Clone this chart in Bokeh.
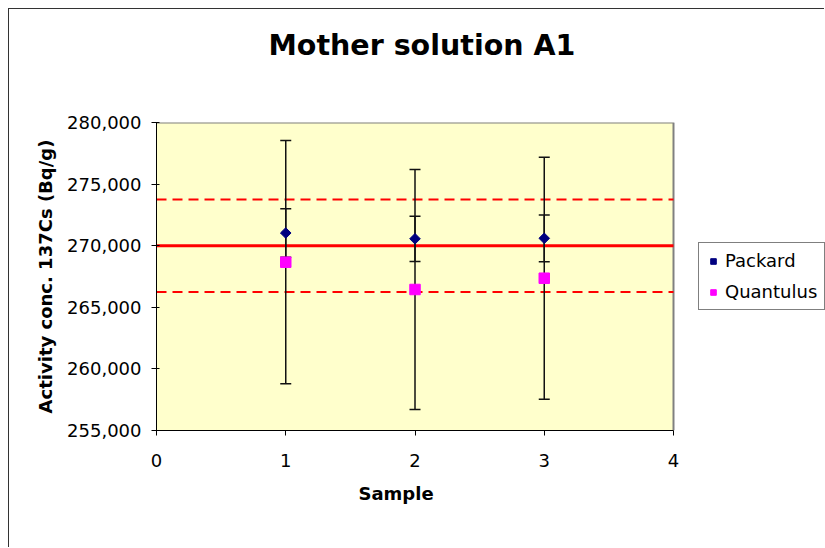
from bokeh.plotting import figure
from bokeh.models import (ColumnDataSource, Whisker, TeeHead, Legend, LegendItem, Title,
                          FixedTicker, NumeralTickFormatter, Range1d)
from bokeh.embed import file_html
from bokeh.resources import INLINE
import math

# ---- data ----
samples = [1, 2, 3]
packard = [271030, 270560, 270600]
packard_unc = [1965, 1840, 1900]
quantulus = [268660, 266445, 267360]
quantulus_unc = [9875, 9740, 9820]
ref_value = 270000
ref_unc = 3750
x_ticks = [0, 1, 2, 3, 4]
y_ticks = [255000, 260000, 265000, 270000, 275000, 280000]

FONT = "DejaVu Sans"

# layout (pixels)
W, H = 816, 539
ML, MR, MT, MB = 147, 0, 113, 118
PLOT_W = 517                      # width of the yellow plot area
FRAME_W = W - ML - MR
x0, x1 = x_ticks[0], x_ticks[-1]
y0, y1 = y_ticks[0], y_ticks[-1]
x_end = x0 + (x1 - x0) * FRAME_W / PLOT_W

p = figure(width=W, height=H, output_backend="svg", toolbar_location=None,
           x_range=Range1d(x0, x_end), y_range=Range1d(y0, y1),
           min_border_left=ML, min_border_right=MR, min_border_top=MT, min_border_bottom=MB)
p.styles = {"margin-left": "8px", "margin-top": "8px",
            "border-left": "1px solid #333333", "border-top": "1px solid #333333"}

p.background_fill_color = "white"
p.border_fill_color = "white"
p.outline_line_color = None
p.xgrid.visible = False
p.ygrid.visible = False

# plot area background and its grey border
p.quad(left=[x0], right=[x1], bottom=[y0], top=[y1],
       fill_color="#FFFFCC", line_color=None, level="image")
p.line([x0, x1, x1], [y1, y1, y0], line_color="#808080", line_width=2, level="image")

# real title (outer) + blank spacer title (next to the frame)
p.title.text = "Mother solution A1"
p.title.text_font = FONT
p.title.text_font_size = "28.5px"
p.title.text_font_style = "bold"
p.title.text_color = "black"
p.title.align = "left"
p.title.offset = 112
p.title.vertical_align = "bottom"
p.title.standoff = 0
spacer = Title(text=" ", text_font_size="1px", text_color="white", standoff=58)
p.add_layout(spacer, "above")

# axes
for ax in (p.xaxis[0], p.yaxis[0]):
    ax.axis_line_color = "black"
    ax.axis_line_width = 1
    ax.major_tick_line_color = "black"
    ax.minor_tick_line_color = None
    ax.major_label_text_font = FONT
    ax.major_label_text_font_size = "18px"
    ax.major_label_text_color = "black"
    ax.axis_label_text_font = FONT
    ax.axis_label_text_font_size = "18px"
    ax.axis_label_text_font_style = "bold"
    ax.axis_label_text_color = "black"

p.xaxis.ticker = FixedTicker(ticks=x_ticks)
p.xaxis.bounds = (x0, x1)
p.xaxis.major_tick_in = 0
p.xaxis.major_tick_out = 5
p.xaxis.major_label_standoff = 18

# x axis title, placed under the plot area
x_title = Title(text="Sample", text_font=FONT, text_font_size="18px", text_font_style="bold",
                text_color="black", align="left", offset=202, vertical_align="top",
                standoff=27)
p.add_layout(x_title, "below")

p.yaxis.ticker = FixedTicker(ticks=y_ticks)
p.yaxis.formatter = NumeralTickFormatter(format="0,0")
p.yaxis.major_tick_in = 3
p.yaxis.major_tick_out = 5
p.yaxis.major_label_standoff = 10
p.yaxis.axis_label = "Activity conc. 137Cs (Bq/g)"
p.yaxis.axis_label_standoff = 8

# error bars
q_src = ColumnDataSource(dict(
    x=samples,
    upper=[v + e for v, e in zip(quantulus, quantulus_unc)],
    lower=[v - e for v, e in zip(quantulus, quantulus_unc)]))
pk_src = ColumnDataSource(dict(
    x=samples,
    upper=[v + e for v, e in zip(packard, packard_unc)],
    lower=[v - e for v, e in zip(packard, packard_unc)]))

for src in (q_src, pk_src):
    w = Whisker(source=src, base="x", upper="upper", lower="lower", dimension="height",
                line_color="#111111", line_width=1.5, level="underlay",
                upper_head=TeeHead(size=11, line_color="#111111", line_width=1.5),
                lower_head=TeeHead(size=11, line_color="#111111", line_width=1.5))
    p.add_layout(w)

# reference value and its uncertainty limits
p.segment(x0=[x0], y0=[ref_value], x1=[x1], y1=[ref_value],
          line_color="#FF0000", line_width=3, level="underlay")
p.segment(x0=[x0, x0], y0=[ref_value + ref_unc, ref_value - ref_unc],
          x1=[x1, x1], y1=[ref_value + ref_unc, ref_value - ref_unc],
          line_color="#FF0000", line_width=2, line_dash="10 6", level="underlay")

# markers
r_pk = p.scatter(samples, packard, marker="square", angle=math.pi / 4, size=7.5,
                 fill_color="#000080", line_color="#000080")
r_q = p.scatter(samples, quantulus, marker="square", size=10.5,
                fill_color="#FF00FF", line_color="#FF00FF")

legend = Legend(items=[LegendItem(label="Packard", renderers=[r_pk]),
                       LegendItem(label="Quantulus", renderers=[r_q])],
                location=(542, 120))
legend.label_text_font = FONT
legend.label_text_font_size = "18px"
legend.label_text_color = "black"
legend.border_line_color = "black"
legend.border_line_width = 1
legend.background_fill_color = "white"
legend.background_fill_alpha = 1
legend.padding = 7
legend.spacing = 10
legend.margin = 0
legend.glyph_width = 14
legend.glyph_height = 14
legend.label_standoff = 5
p.add_layout(legend)

open("out.html", "w").write(file_html(p, INLINE))
